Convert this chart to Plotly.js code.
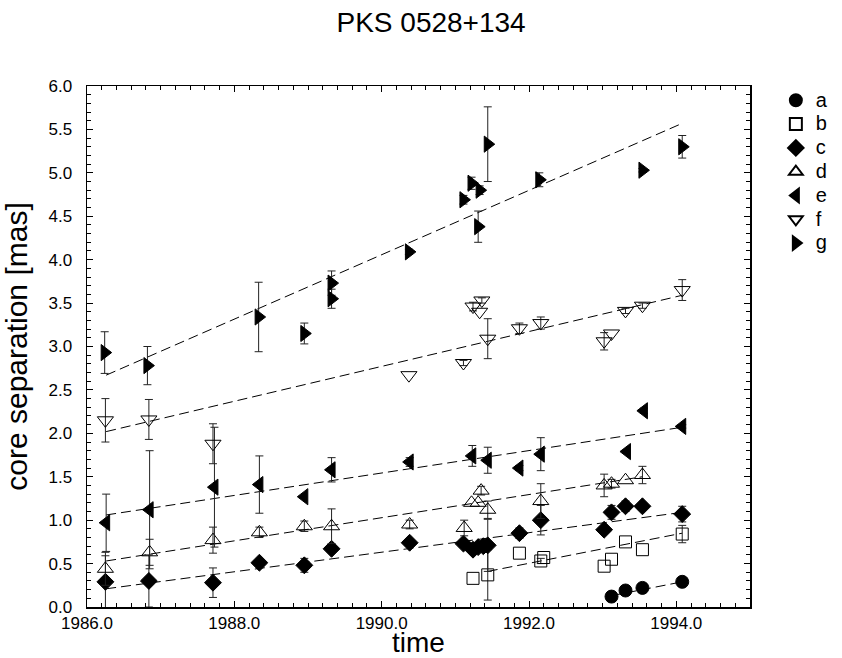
<!DOCTYPE html>
<html>
<head>
<meta charset="utf-8">
<script src="https://cdn.plot.ly/plotly-3.0.1.min.js"></script>
<style>
html,body{margin:0;padding:0;background:#fff;}
#chart{width:842px;height:658px;}
#chart .legendtext{font-size:20px !important;}
</style>
</head>
<body>
<div id="chart"></div>
<script>
// ---- data ----
const seriesNames = ["a", "b", "c", "d", "e", "f", "g"];

const aTime = [1993.12, 1993.31, 1993.54, 1994.08];
const aSep  = [0.12, 0.19, 0.22, 0.29];
const aErr  = [0.03, 0.03, 0.02, 0.02];

const bTime = [1991.24, 1991.44, 1991.87, 1992.16, 1992.20, 1993.02, 1993.12, 1993.31, 1993.54, 1994.08];
const bSep  = [0.33, 0.37, 0.62, 0.53, 0.57, 0.47, 0.55, 0.75, 0.66, 0.84];
const bErr  = [null, 0.29, null, 0.03, null, null, null, null, null, 0.10];

const cTime = [1986.25, 1986.84, 1987.71, 1988.34, 1988.95, 1989.32, 1990.38, 1991.11, 1991.24, 1991.31, 1991.38, 1991.44, 1991.87, 1992.16, 1993.02, 1993.12, 1993.31, 1993.54, 1994.08];
const cSep  = [0.29, 0.30, 0.28, 0.51, 0.48, 0.67, 0.74, 0.73, 0.66, 0.69, 0.70, 0.71, 0.85, 1.00, 0.89, 1.09, 1.16, 1.16, 1.07];
const cErr  = [0.30, 0.30, 0.17, 0.03, 0.08, 0.03, 0.03, 0.03, 0.03, 0.03, 0.03, 0.30, 0.06, 0.17, 0.03, 0.08, 0.06, 0.03, 0.09];

const dTime = [1986.25, 1986.85, 1987.71, 1988.34, 1988.95, 1989.32, 1990.38, 1991.12, 1991.22, 1991.31, 1991.35, 1991.44, 1992.16, 1993.02, 1993.12, 1993.31, 1993.54];
const dSep  = [0.44, 0.63, 0.77, 0.86, 0.93, 0.93, 0.95, 0.91, 1.20, 1.20, 1.34, 1.12, 1.22, 1.40, 1.42, 1.46, 1.52];
const dErr  = [0.19, 0.15, 0.15, 0.06, 0.06, 0.20, 0.05, 0.09, null, null, 0.05, 0.10, 0.20, 0.13, 0.05, null, 0.10];

const eTime = [1986.26, 1986.85, 1987.73, 1988.34, 1988.95, 1989.32, 1990.38, 1991.23, 1991.44, 1991.87, 1992.16, 1993.33, 1993.56, 1994.08];
const eSep  = [0.97, 1.12, 1.38, 1.41, 1.27, 1.58, 1.67, 1.74, 1.69, 1.60, 1.76, 1.79, 2.26, 2.08];
const eErr  = [0.33, 0.68, 0.69, 0.33, null, 0.14, 0.05, 0.12, 0.15, 0.03, 0.19, null, 0.03, 0.02];

const fTime = [1986.25, 1986.84, 1987.71, 1990.37, 1991.11, 1991.24, 1991.33, 1991.36, 1991.44, 1991.87, 1992.16, 1993.02, 1993.12, 1993.31, 1993.54, 1994.08];
const fSep  = [2.15, 2.16, 1.88, 2.67, 2.81, 3.46, 3.40, 3.53, 3.09, 3.21, 3.27, 3.06, 3.15, 3.41, 3.47, 3.65];
const fErr  = [0.25, 0.23, 0.23, null, 0.03, 0.05, null, 0.03, 0.23, 0.06, 0.07, 0.10, null, 0.03, 0.03, 0.12];

const gTime = [1986.24, 1986.82, 1988.33, 1988.95, 1989.32, 1989.32, 1990.37, 1991.11, 1991.22, 1991.31, 1991.33, 1991.44, 1992.14, 1993.54, 1994.08];
const gSep  = [2.93, 2.78, 3.34, 3.15, 3.73, 3.55, 4.09, 4.69, 4.88, 4.38, 4.80, 5.33, 4.92, 5.03, 5.30];
const gErr  = [0.24, 0.22, 0.40, 0.12, 0.14, 0.11, 0.03, 0.05, 0.07, 0.18, 0.05, 0.43, 0.08, 0.02, 0.13];

// linear-fit segments (start/end)
const fitStartTime = [1993.12, 1991.44, 1986.26, 1986.26, 1986.26, 1986.26, 1986.26];
const fitStartSep  = [0.13, 0.41, 0.21, 0.53, 1.06, 2.02, 2.67];
const fitEndTime   = [1994.08, 1994.08, 1994.08, 1993.54, 1994.08, 1994.08, 1994.08];
const fitEndSep    = [0.29, 0.85, 1.09, 1.50, 2.07, 3.59, 5.57];

const xTickVals = [1986, 1988, 1990, 1992, 1994];
const yTickVals = [0, 0.5, 1, 1.5, 2, 2.5, 3, 3.5, 4, 4.5, 5, 5.5, 6];

// ---- styles ----
const FONT = "Liberation Sans, Arial, sans-serif";
const symbols = ["circle", "square-open", "diamond", "triangle-up-open", "triangle-left", "triangle-down-open", "triangle-right"];
const sizes = [13, 12, 13, 14, 14, 14, 14];
const times = [aTime, bTime, cTime, dTime, eTime, fTime, gTime];
const seps = [aSep, bSep, cSep, dSep, eSep, fSep, gSep];
const errs = [aErr, bErr, cErr, dErr, eErr, fErr, gErr];

const traces = [];
for (let i = 0; i < seriesNames.length; i++) {
  traces.push({
    x: [fitStartTime[i], fitEndTime[i]],
    y: [fitStartSep[i], fitEndSep[i]],
    mode: "lines",
    line: {color: "#000", width: 1, dash: "10px,5px"},
    showlegend: false,
    hoverinfo: "skip"
  });
}
for (let i = 0; i < seriesNames.length; i++) {
  traces.push({
    x: times[i],
    y: seps[i],
    name: seriesNames[i],
    mode: "markers",
    marker: {symbol: symbols[i], size: sizes[i], color: "#000", line: {color: "#000", width: 1}},
    error_y: {type: "data", array: errs[i].map(v => (v === null ? NaN : v)),
              visible: true, color: "#222", thickness: 1, width: 4}
  });
}

const layout = {
  width: 842, height: 658,
  paper_bgcolor: "#fff", plot_bgcolor: "#fff",
  margin: {l: 87, r: 69, t: 86, b: 51},
  font: {family: FONT, color: "#000", size: 16},
  title: {text: "PKS 0528+134", font: {family: FONT, size: 28, color: "#000"},
          x: 0.512, xanchor: "center", y: 0.967, yanchor: "middle"},
  xaxis: {
    range: [1986, 1995], tickvals: xTickVals, tickformat: ".1f",
    ticks: "inside", ticklen: 6, tickcolor: "#000", tickwidth: 1,
    showline: true, linecolor: "#000", linewidth: 1.5, mirror: "allticks",
    showgrid: false, zeroline: false,
    tickfont: {family: FONT, size: 17},
    ticklabelstandoff: 0,
    minor: {dtick: 0.2, tick0: 1986, ticks: "inside", ticklen: 4, tickcolor: "#000", showgrid: false},
    title: {text: "time", font: {family: FONT, size: 28}, standoff: 6}
  },
  yaxis: {
    range: [0, 6], tickvals: yTickVals, tickformat: ".1f",
    ticks: "inside", ticklen: 6, tickcolor: "#000", tickwidth: 1,
    showline: true, linecolor: "#000", linewidth: 1.5, mirror: "allticks",
    showgrid: false, zeroline: false,
    tickfont: {family: FONT, size: 17},
    ticklabelstandoff: 10,
    minor: {dtick: 0.1, tick0: 0, ticks: "inside", ticklen: 4, tickcolor: "#000", showgrid: false},
    title: {text: "core separation [mas]", font: {family: FONT, size: 30}, standoff: 14}
  },
  legend: {
    x: 1.039, xanchor: "left", y: 1.005, yanchor: "top",
    font: {family: FONT, size: 16, color: "#000"},
    bgcolor: "rgba(0,0,0,0)", borderwidth: 0, itemsizing: "constant", tracegroupgap: 0
  },
  showlegend: true
};

Plotly.newPlot("chart", traces, layout, {displayModeBar: false, staticPlot: true});
</script>
</body>
</html>
